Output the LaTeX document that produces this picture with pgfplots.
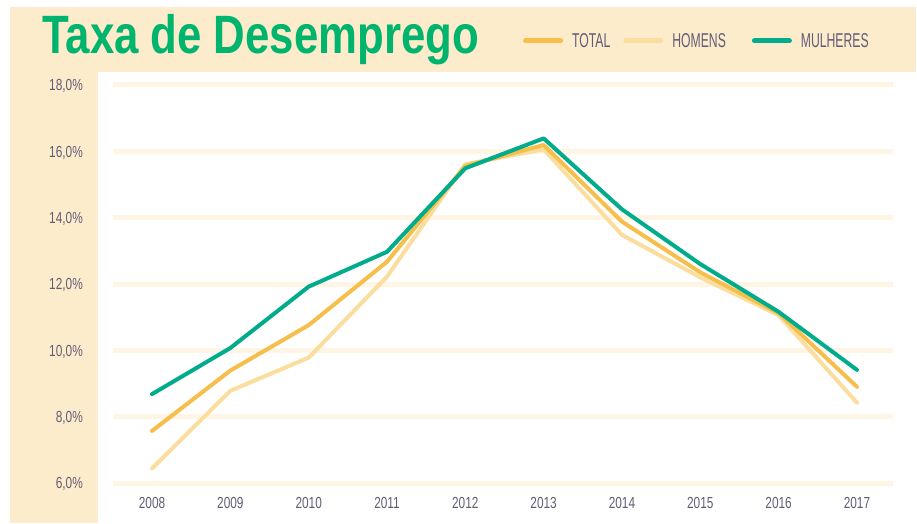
\documentclass[border=0pt]{standalone}
\usepackage{fontspec}
\usepackage{pgfplots}
\pgfplotsset{compat=1.18}
\setmainfont{Liberation Sans}
\newfontfamily\titlefont[FakeStretch=0.81]{Liberation Sans}
\newfontfamily\tickfont[FakeStretch=0.74]{Liberation Sans}
\newfontfamily\legfont[FakeStretch=0.61]{Liberation Sans}
\definecolor{beige}{RGB}{253,236,204}
\definecolor{gridc}{RGB}{254,245,228}
\definecolor{totalc}{RGB}{246,190,74}
\definecolor{homensc}{RGB}{251,221,158}
\definecolor{mulherc}{RGB}{0,172,140}
\definecolor{titlec}{RGB}{0,180,110}
\definecolor{tickc}{RGB}{98,92,118}
\begin{document}
\begin{tikzpicture}[x=1pt,y=1pt]
\path[fill=white] (0,0) rectangle (917,523);
\fill[beige] (10,451) rectangle (916,516);
\fill[beige] (10,0) rectangle (98,451);
\node[anchor=base west, inner sep=0pt, text=titlec] at (42,469) {\titlefont\bfseries\fontsize{54}{60}\selectfont Taxa de Desemprego};
\begin{axis}[
  at={(113pt,40pt)}, anchor=south west,
  scale only axis, width=780pt, height=398pt,
  xmin=2007.502, xmax=2017.46, ymin=6, ymax=18,
  clip=false,
  axis line style={draw=none},
  major tick length=0pt,
  xtick={2008,2009,2010,2011,2012,2013,2014,2015,2016,2017},
  xticklabels={2008,2009,2010,2011,2012,2013,2014,2015,2016,2017},
  ytick={6,8,10,12,14,16,18},
  yticklabels={{6,0\%},{8,0\%},{10,0\%},{12,0\%},{14,0\%},{16,0\%},{18,0\%}},
  ymajorgrids,
  major grid style={draw=gridc, line width=5pt},
  yticklabel style={anchor=east, inner sep=0pt, xshift=-30pt, text height=11.5pt, text depth=0pt, font=\tickfont\fontsize{16}{18}\selectfont, text=tickc},
  xticklabel style={anchor=north, inner sep=0pt, yshift=-14pt, text height=11.5pt, text depth=0pt, font=\tickfont\fontsize{16}{18}\selectfont, text=tickc},
  legend columns=3,
  legend style={at={(rel axis cs:0.5256,1.111)}, anchor=west, draw=none, fill=none,
    inner sep=0pt,
    nodes={inner sep=0pt, text depth=0pt, text=tickc, font=\legfont\fontsize{20}{22}\selectfont},
    /tikz/every odd column/.append style={column sep=9pt},
    /tikz/column 2/.style={column sep=13pt},
    /tikz/column 4/.style={column sep=26pt}},
  legend image code/.code={\draw[#1, line width=5pt, line cap=round] (2.5pt,0pt) -- (37.5pt,0pt);},
]
\addlegendimage{totalc, line width=5pt}
\addlegendentry{TOTAL}
\addlegendimage{homensc, line width=5pt}
\addlegendentry{HOMENS}
\addlegendimage{mulherc, line width=5pt}
\addlegendentry{MULHERES}
\addplot[forget plot, homensc, line width=4pt, line cap=round, line join=round] coordinates {
(2008,6.44) (2009,8.78) (2010,9.78) (2011,12.22) (2012,15.61) (2013,16.06) (2014,13.48) (2015,12.20) (2016,11.06) (2017,8.42)};
\addplot[forget plot, totalc, line width=4pt, line cap=round, line join=round] coordinates {
(2008,7.57) (2009,9.39) (2010,10.76) (2011,12.67) (2012,15.56) (2013,16.19) (2014,13.88) (2015,12.35) (2016,11.12) (2017,8.90)};
\addplot[forget plot, mulherc, line width=4pt, line cap=round, line join=round] coordinates {
(2008,8.68) (2009,10.07) (2010,11.92) (2011,12.97) (2012,15.49) (2013,16.39) (2014,14.25) (2015,12.60) (2016,11.16) (2017,9.41)};
\end{axis}
\end{tikzpicture}
\end{document}
